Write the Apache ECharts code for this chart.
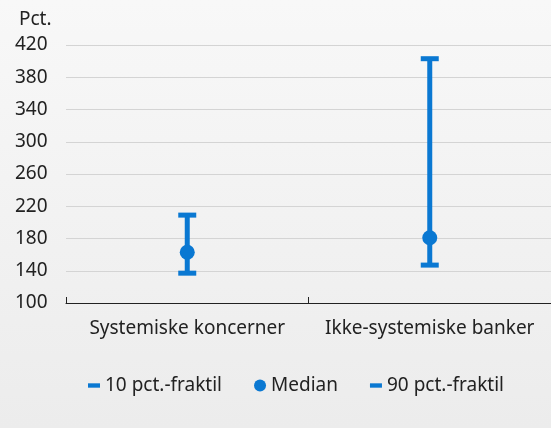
<!DOCTYPE html>
<html>
<head>
<meta charset="utf-8">
<script src="https://cdn.jsdelivr.net/npm/echarts@6/dist/echarts.min.js"></script>
<style>
  html, body { margin: 0; padding: 0; }
  #main { width: 551px; height: 428px; }
</style>
</head>
<body>
<div id="main"></div>
<script>
var categories = ["Systemiske koncerner", "Ikke-systemiske banker"]
var p10 = [137, 147]
var median = [163, 181]
var p90 = [209, 403]
var yTicks = [100, 140, 180, 220, 260, 300, 340, 380, 420]

var blue = "#0a78d2"
var font = "Noto Sans"
var dash = "path://M0,0h11v4h-11z"

var chart = echarts.init(document.getElementById("main"))

var option = {
  backgroundColor: {
    type: "linear", x: 0, y: 0, x2: 0, y2: 1,
    colorStops: [
      { offset: 0, color: "#f8f8f8" },
      { offset: 1, color: "#ececec" }
    ]
  },
  textStyle: { fontFamily: font },
  title: {
    text: "Pct.",
    left: 14,
    top: 5,
    textStyle: { fontFamily: font, fontSize: 19, fontWeight: "normal", color: "#222" }
  },
  legend: {
    left: 83,
    top: 371,
    itemWidth: 12,
    itemHeight: 12,
    itemGap: 32,
    textStyle: { fontFamily: font, fontSize: 19, color: "#222" },
    data: [
      { name: "10 pct.-fraktil", icon: dash },
      { name: "Median", icon: "circle" },
      { name: "90 pct.-fraktil", icon: dash }
    ]
  },
  grid: { left: 66, width: 492, top: 45, bottom: 125, containLabel: false },
  xAxis: {
    type: "category",
    data: categories,
    axisLine: { show: true, lineStyle: { color: "#222", width: 1 } },
    axisTick: { show: true, inside: true, length: 6, interval: 0, lineStyle: { color: "#222", width: 1 } },
    axisLabel: { fontFamily: font, fontSize: 19, color: "#222", margin: 16, interval: 0 }
  },
  yAxis: {
    type: "value",
    min: yTicks[0],
    max: yTicks[yTicks.length - 1],
    interval: 40,
    axisLine: { show: false },
    axisTick: { show: false },
    axisLabel: { fontFamily: font, fontSize: 19, color: "#222", align: "left", margin: 51 },
    splitLine: { lineStyle: { color: "#d4d4d4", width: 1 } }
  },
  series: [
    {
      type: "custom",
      silent: true,
      data: categories.map(function (c, i) { return [i, p10[i], p90[i]] }),
      renderItem: function (params, api) {
        var a = api.coord([api.value(0), api.value(1)])
        var b = api.coord([api.value(0), api.value(2)])
        return {
          type: "line",
          shape: { x1: a[0], y1: a[1], x2: b[0], y2: b[1] },
          style: { stroke: blue, lineWidth: 5 }
        }
      },
      z: 1
    },
    {
      name: "10 pct.-fraktil",
      type: "scatter",
      symbol: "rect",
      symbolSize: [18, 5],
      itemStyle: { color: blue, opacity: 1 },
      data: p10,
      z: 2
    },
    {
      name: "Median",
      type: "scatter",
      symbol: "circle",
      symbolSize: 15,
      itemStyle: { color: blue, opacity: 1 },
      data: median,
      z: 3
    },
    {
      name: "90 pct.-fraktil",
      type: "scatter",
      symbol: "rect",
      symbolSize: [18, 5],
      itemStyle: { color: blue, opacity: 1 },
      data: p90,
      z: 2
    }
  ]
}

chart.setOption(option)
</script>
</body>
</html>
